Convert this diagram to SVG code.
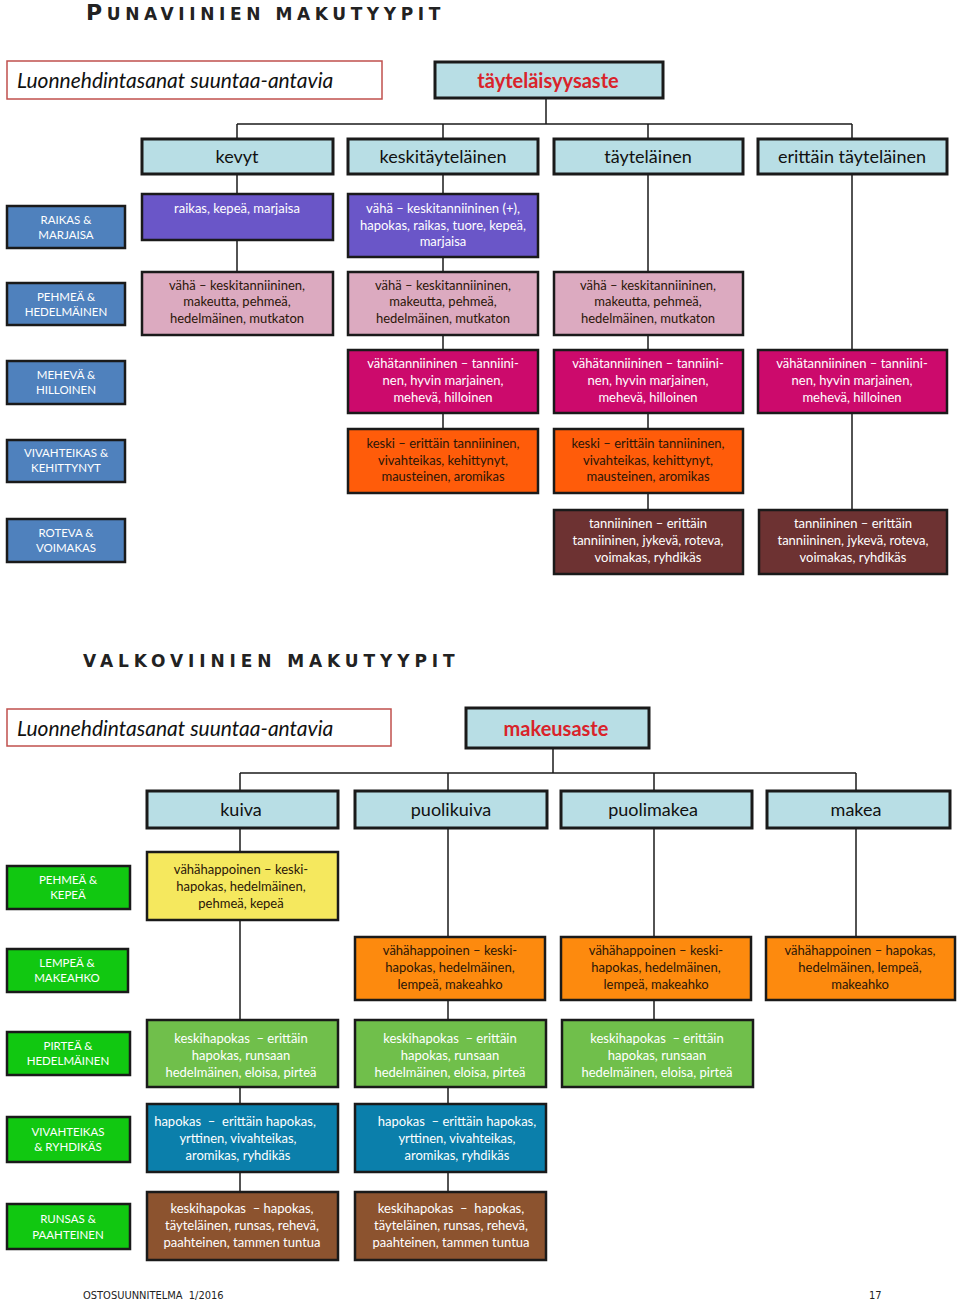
<svg xmlns="http://www.w3.org/2000/svg" width="960" height="1302" viewBox="0 0 960 1302">
<style>
text{font-family:Lato,"Open Sans","Liberation Sans",sans-serif}
.title{font-family:"DejaVu Sans",sans-serif;font-weight:bold;fill:#222}
.lbox{fill:#fff;stroke:#c0504d;stroke-width:1.5}
.ltxt{font-size:21px;font-style:italic;fill:#111}
.top{fill:#b8dee5;stroke:#1a1a1a;stroke-width:3}
.toptxt{font-size:20px;font-weight:bold;fill:#d9232a;text-anchor:middle}
.hdr{fill:#b8dee5;stroke:#1a1a1a;stroke-width:3}
.hdrtxt{font-size:18px;fill:#111;text-anchor:middle}
.cell{stroke:#1a1a1a;stroke-width:2.5}
.ct{font-size:13px;text-anchor:middle}
.w{fill:#fff}
.d{fill:#2a1608}
.lab{stroke:#1a1a1a;stroke-width:2.5}
.lt{font-size:11.5px;fill:#fff;text-anchor:middle}
.conn line{stroke:#1a1a1a;stroke-width:1.5}
.foot{font-family:"Liberation Sans Narrow","DejaVu Sans Condensed",sans-serif;font-size:11px;fill:#222}
</style>

<!-- ========== RED WINES ========== -->
<text class="title" x="86" y="20" letter-spacing="4.6"><tspan font-size="22">P</tspan><tspan font-size="17">UNAVIINIEN MAKUTYYPIT</tspan></text>

<g id="red-desc"><rect class="lbox" x="7" y="61" width="375" height="38"/><text class="ltxt" x="17" y="88">Luonnehdintasanat suuntaa-antavia</text></g>

<g class="conn" id="red-connectors">
<line x1="546" y1="98" x2="546" y2="124"/>
<line x1="237" y1="124" x2="852" y2="124"/>
<line x1="237" y1="124" x2="237" y2="272"/>
<line x1="443" y1="124" x2="443" y2="429"/>
<line x1="648" y1="124" x2="648" y2="510"/>
<line x1="852" y1="124" x2="852" y2="510"/>
</g>

<g id="red-top"><rect class="top" x="435" y="62" width="228" height="36"/><text class="toptxt" x="548" y="88">täyteläisyysaste</text></g>

<g id="h-kevyt"><rect class="hdr" x="142" y="139" width="191" height="35"/><text class="hdrtxt" x="237" y="163">kevyt</text></g>
<g id="h-keskit"><rect class="hdr" x="348" y="139" width="190" height="35"/><text class="hdrtxt" x="443" y="163">keskitäyteläinen</text></g>
<g id="h-tayt"><rect class="hdr" x="554" y="139" width="189" height="35"/><text class="hdrtxt" x="648" y="163">täyteläinen</text></g>
<g id="h-erit"><rect class="hdr" x="758" y="139" width="189" height="35"/><text class="hdrtxt" x="852" y="163">erittäin täyteläinen</text></g>

<!-- row labels red -->
<g id="l-raikas"><rect class="lab" x="7" y="206" width="118" height="42" fill="#4f81bd"/><text class="lt" x="66" y="224">RAIKAS &amp;</text><text class="lt" x="66" y="239">MARJAISA</text></g>
<g id="l-pehmea"><rect class="lab" x="7" y="283" width="118" height="42" fill="#4f81bd"/><text class="lt" x="66" y="301">PEHMEÄ &amp;</text><text class="lt" x="66" y="316">HEDELMÄINEN</text></g>
<g id="l-meheva"><rect class="lab" x="7" y="361" width="118" height="43" fill="#4f81bd"/><text class="lt" x="66" y="379">MEHEVÄ &amp;</text><text class="lt" x="66" y="394">HILLOINEN</text></g>
<g id="l-vivahteikas"><rect class="lab" x="7" y="440" width="118" height="42" fill="#4f81bd"/><text class="lt" x="66" y="457">VIVAHTEIKAS &amp;</text><text class="lt" x="66" y="472">KEHITTYNYT</text></g>
<g id="l-roteva"><rect class="lab" x="7" y="519" width="118" height="43" fill="#4f81bd"/><text class="lt" x="66" y="537">ROTEVA &amp;</text><text class="lt" x="66" y="552">VOIMAKAS</text></g>

<!-- row 1 -->
<g id="r1-kevyt"><rect class="cell" x="142" y="194" width="191" height="46" fill="#6a56c8"/><text class="ct w" x="237" y="213">raikas, kepeä, marjaisa</text></g>
<g id="r1-keskit"><rect class="cell" x="348" y="194" width="190" height="63" fill="#6a56c8"/><text class="ct w" x="443" y="213">vähä – keskitanniininen (+),</text><text class="ct w" x="443" y="230">hapokas, raikas, tuore, kepeä,</text><text class="ct w" x="443" y="246">marjaisa</text></g>

<!-- row 2 -->
<g id="r2-kevyt"><rect class="cell" x="142" y="272" width="191" height="63" fill="#dcaac0"/><text class="ct d" x="237" y="290">vähä – keskitanniininen,</text><text class="ct d" x="237" y="306">makeutta, pehmeä,</text><text class="ct d" x="237" y="323">hedelmäinen, mutkaton</text></g>
<g id="r2-keskit"><rect class="cell" x="348" y="272" width="190" height="63" fill="#dcaac0"/><text class="ct d" x="443" y="290">vähä – keskitanniininen,</text><text class="ct d" x="443" y="306">makeutta, pehmeä,</text><text class="ct d" x="443" y="323">hedelmäinen, mutkaton</text></g>
<g id="r2-tayt"><rect class="cell" x="554" y="272" width="189" height="63" fill="#dcaac0"/><text class="ct d" x="648" y="290">vähä – keskitanniininen,</text><text class="ct d" x="648" y="306">makeutta, pehmeä,</text><text class="ct d" x="648" y="323">hedelmäinen, mutkaton</text></g>

<!-- row 3 -->
<g id="r3-keskit"><rect class="cell" x="348" y="350" width="190" height="63" fill="#cc0a6c"/><text class="ct w" x="443" y="368">vähätanniininen – tanniini-</text><text class="ct w" x="443" y="385">nen, hyvin marjainen,</text><text class="ct w" x="443" y="402">mehevä, hilloinen</text></g>
<g id="r3-tayt"><rect class="cell" x="554" y="350" width="189" height="63" fill="#cc0a6c"/><text class="ct w" x="648" y="368">vähätanniininen – tanniini-</text><text class="ct w" x="648" y="385">nen, hyvin marjainen,</text><text class="ct w" x="648" y="402">mehevä, hilloinen</text></g>
<g id="r3-erit"><rect class="cell" x="758" y="350" width="189" height="63" fill="#cc0a6c"/><text class="ct w" x="852" y="368">vähätanniininen – tanniini-</text><text class="ct w" x="852" y="385">nen, hyvin marjainen,</text><text class="ct w" x="852" y="402">mehevä, hilloinen</text></g>

<!-- row 4 -->
<g id="r4-keskit"><rect class="cell" x="348" y="429" width="190" height="64" fill="#ff5c0a"/><text class="ct d" x="443" y="448">keski – erittäin tanniininen,</text><text class="ct d" x="443" y="465">vivahteikas, kehittynyt,</text><text class="ct d" x="443" y="481">mausteinen, aromikas</text></g>
<g id="r4-tayt"><rect class="cell" x="554" y="429" width="189" height="64" fill="#ff5c0a"/><text class="ct d" x="648" y="448">keski – erittäin tanniininen,</text><text class="ct d" x="648" y="465">vivahteikas, kehittynyt,</text><text class="ct d" x="648" y="481">mausteinen, aromikas</text></g>

<!-- row 5 -->
<g id="r5-tayt"><rect class="cell" x="554" y="510" width="189" height="64" fill="#6d3232"/><text class="ct w" x="648" y="528">tanniininen – erittäin</text><text class="ct w" x="648" y="545">tanniininen, jykevä, roteva,</text><text class="ct w" x="648" y="562">voimakas, ryhdikäs</text></g>
<g id="r5-erit"><rect class="cell" x="759" y="510" width="188" height="64" fill="#6d3232"/><text class="ct w" x="853" y="528">tanniininen – erittäin</text><text class="ct w" x="853" y="545">tanniininen, jykevä, roteva,</text><text class="ct w" x="853" y="562">voimakas, ryhdikäs</text></g>

<!-- ========== WHITE WINES ========== -->
<text class="title" x="83" y="667" font-size="17" letter-spacing="4.9">VALKOVIINIEN MAKUTYYPIT</text>

<g id="white-desc"><rect class="lbox" x="7" y="709" width="384" height="37"/><text class="ltxt" x="17" y="736">Luonnehdintasanat suuntaa-antavia</text></g>

<g class="conn" id="white-connectors">
<line x1="553" y1="748" x2="553" y2="773"/>
<line x1="240" y1="773" x2="856" y2="773"/>
<line x1="240" y1="773" x2="240" y2="1192"/>
<line x1="448" y1="773" x2="448" y2="1192"/>
<line x1="654" y1="773" x2="654" y2="1020"/>
<line x1="856" y1="773" x2="856" y2="937"/>
</g>

<g id="white-top"><rect class="top" x="466" y="708" width="183" height="40"/><text class="toptxt" x="556" y="736">makeusaste</text></g>

<g id="h-kuiva"><rect class="hdr" x="147" y="791" width="191" height="37"/><text class="hdrtxt" x="241" y="816">kuiva</text></g>
<g id="h-puolikuiva"><rect class="hdr" x="355" y="791" width="192" height="37"/><text class="hdrtxt" x="451" y="816">puolikuiva</text></g>
<g id="h-puolimakea"><rect class="hdr" x="561" y="791" width="191" height="37"/><text class="hdrtxt" x="653" y="816">puolimakea</text></g>
<g id="h-makea"><rect class="hdr" x="767" y="791" width="183" height="37"/><text class="hdrtxt" x="856" y="816">makea</text></g>

<!-- row labels white -->
<g id="l-pehmea-kepea"><rect class="lab" x="7" y="866" width="123" height="43" fill="#11c811"/><text class="lt" x="68" y="884">PEHMEÄ &amp;</text><text class="lt" x="68" y="899">KEPEÄ</text></g>
<g id="l-lempea"><rect class="lab" x="7" y="949" width="121" height="43" fill="#11c811"/><text class="lt" x="67" y="967">LEMPEÄ &amp;</text><text class="lt" x="67" y="982">MAKEAHKO</text></g>
<g id="l-pirtea"><rect class="lab" x="7" y="1032" width="123" height="43" fill="#11c811"/><text class="lt" x="68" y="1050">PIRTEÄ &amp;</text><text class="lt" x="68" y="1065">HEDELMÄINEN</text></g>
<g id="l-vivahteikas-w"><rect class="lab" x="7" y="1117" width="123" height="45" fill="#11c811"/><text class="lt" x="68" y="1136">VIVAHTEIKAS</text><text class="lt" x="68" y="1151">&amp; RYHDIKÄS</text></g>
<g id="l-runsas"><rect class="lab" x="7" y="1204" width="123" height="45" fill="#11c811"/><text class="lt" x="68" y="1223">RUNSAS &amp;</text><text class="lt" x="68" y="1239">PAAHTEINEN</text></g>

<!-- white row 1 -->
<g id="w1-kuiva"><rect class="cell" x="147" y="852" width="191" height="68" fill="#f5e85e"/><text class="ct d" x="241" y="874">vähähappoinen – keski-</text><text class="ct d" x="241" y="891">hapokas, hedelmäinen,</text><text class="ct d" x="241" y="908">pehmeä, kepeä</text></g>

<!-- white row 2 -->
<g id="w2-puolikuiva"><rect class="cell" x="355" y="937" width="190" height="63" fill="#fd8a0e"/><text class="ct d" x="450" y="955">vähähappoinen – keski-</text><text class="ct d" x="450" y="972">hapokas, hedelmäinen,</text><text class="ct d" x="450" y="989">lempeä, makeahko</text></g>
<g id="w2-puolimakea"><rect class="cell" x="561" y="937" width="190" height="63" fill="#fd8a0e"/><text class="ct d" x="656" y="955">vähähappoinen – keski-</text><text class="ct d" x="656" y="972">hapokas, hedelmäinen,</text><text class="ct d" x="656" y="989">lempeä, makeahko</text></g>
<g id="w2-makea"><rect class="cell" x="766" y="937" width="189" height="63" fill="#fd8a0e"/><text class="ct d" x="860" y="955">vähähappoinen – hapokas,</text><text class="ct d" x="860" y="972">hedelmäinen, lempeä,</text><text class="ct d" x="860" y="989">makeahko</text></g>

<!-- white row 3 -->
<g id="w3-kuiva"><rect class="cell" x="147" y="1020" width="191" height="67" fill="#70bf4b"/><text class="ct w" x="241" y="1043" xml:space="preserve">keskihapokas  – erittäin</text><text class="ct w" x="241" y="1060">hapokas, runsaan</text><text class="ct w" x="241" y="1077">hedelmäinen, eloisa, pirteä</text></g>
<g id="w3-puolikuiva"><rect class="cell" x="355" y="1020" width="191" height="67" fill="#70bf4b"/><text class="ct w" x="450" y="1043" xml:space="preserve">keskihapokas  – erittäin</text><text class="ct w" x="450" y="1060">hapokas, runsaan</text><text class="ct w" x="450" y="1077">hedelmäinen, eloisa, pirteä</text></g>
<g id="w3-puolimakea"><rect class="cell" x="562" y="1020" width="191" height="67" fill="#70bf4b"/><text class="ct w" x="657" y="1043" xml:space="preserve">keskihapokas  – erittäin</text><text class="ct w" x="657" y="1060">hapokas, runsaan</text><text class="ct w" x="657" y="1077">hedelmäinen, eloisa, pirteä</text></g>

<!-- white row 4 -->
<g id="w4-kuiva"><rect class="cell" x="147" y="1104" width="191" height="68" fill="#0b7fab"/><text class="ct w" x="235" y="1126" xml:space="preserve">hapokas  –  erittäin hapokas,</text><text class="ct w" x="238" y="1143">yrttinen, vivahteikas,</text><text class="ct w" x="238" y="1160">aromikas, ryhdikäs</text></g>
<g id="w4-puolikuiva"><rect class="cell" x="355" y="1104" width="191" height="68" fill="#0b7fab"/><text class="ct w" x="457" y="1126" xml:space="preserve">hapokas  – erittäin hapokas,</text><text class="ct w" x="457" y="1143">yrttinen, vivahteikas,</text><text class="ct w" x="457" y="1160">aromikas, ryhdikäs</text></g>

<!-- white row 5 -->
<g id="w5-kuiva"><rect class="cell" x="147" y="1192" width="191" height="68" fill="#8c532f"/><text class="ct w" x="242" y="1213" xml:space="preserve">keskihapokas  – hapokas,</text><text class="ct w" x="242" y="1230">täyteläinen, runsas, rehevä,</text><text class="ct w" x="242" y="1247">paahteinen, tammen tuntua</text></g>
<g id="w5-puolikuiva"><rect class="cell" x="355" y="1192" width="191" height="68" fill="#8c532f"/><text class="ct w" x="451" y="1213" xml:space="preserve">keskihapokas  –  hapokas,</text><text class="ct w" x="451" y="1230">täyteläinen, runsas, rehevä,</text><text class="ct w" x="451" y="1247">paahteinen, tammen tuntua</text></g>

<!-- footer -->
<text class="foot" x="83" y="1299" xml:space="preserve">OSTOSUUNNITELMA  1/2016</text>
<text class="foot" x="869" y="1299">17</text>
</svg>
